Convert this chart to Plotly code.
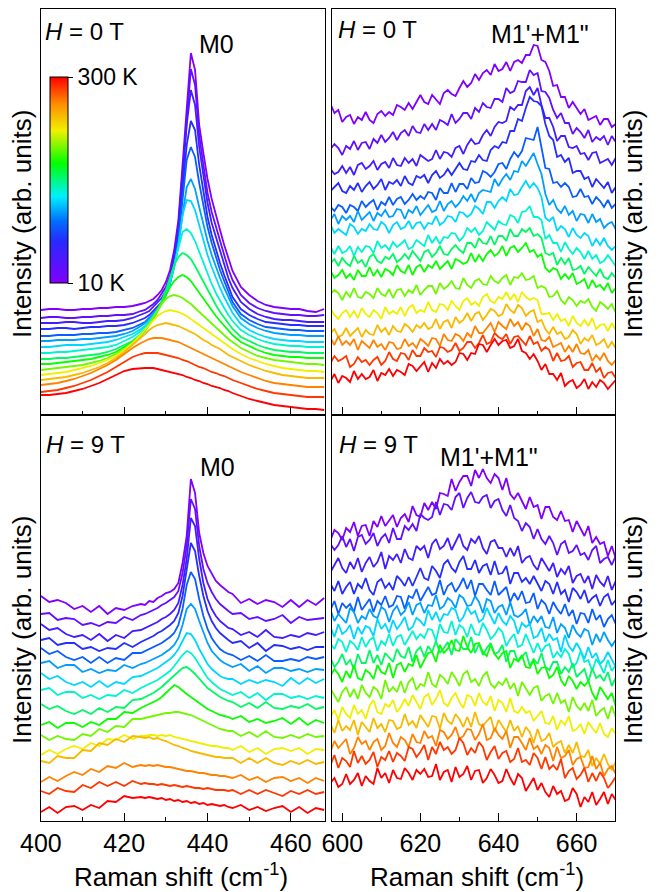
import plotly.graph_objects as go
from plotly.colors import sample_colorscale

# ---------------- data ----------------
temperatures_K = [10, 30, 50, 70, 90, 110, 125, 140, 160, 180, 200, 225, 245, 265, 285, 300]

shift_m0 = [400, 402, 404, 406, 408, 410, 412, 414, 416, 418, 420, 422, 424,
            425, 426, 427, 428, 429, 430, 431, 432, 433, 434, 435, 436, 437, 438, 439, 440,
            441, 442, 443, 444, 445,
            446, 448, 450, 452, 454, 456, 458, 460, 462, 464, 466, 468]
shift_m1 = list(range(597, 671))

# H = 0 T, M0 region (arb. units, offset spectra)
int_m0_0T = [
    [105,106,106,105,105,106,106,107,107,108,108,109,111,112,114,116,120,125,133,145,165,195,250,310,362,345,290,262,236,216,199,185,170,156,144,128,120,114,110,108,107,106,106,104,103,106],
    [97,98,98,97,97,98,98,99,99,100,100,101,104,105,108,111,115,121,128,140,160,190,245,300,346,330,280,250,222,203,188,173,160,146,135,120,112,107,104,102,101,100,100,99,99,100],
    [92,92,92,93,93,92,92,93,94,94,95,97,100,102,104,108,112,117,124,135,155,185,238,290,325,310,268,240,212,192,178,163,150,137,127,113,106,101,98,96,95,95,94,93,93,93],
    [86,86,87,87,86,87,88,88,89,89,90,92,95,97,100,104,108,113,120,132,152,180,225,270,294,285,250,222,198,180,165,152,140,128,118,106,100,96,93,92,91,90,90,89,89,89],
    [79,79,80,80,80,81,81,82,82,83,85,87,91,93,97,101,106,112,120,132,150,175,212,255,268,258,232,208,188,172,158,145,134,123,113,101,95,91,88,87,86,85,85,84,84,84],
    [74,74,75,75,75,76,76,77,78,79,81,84,89,92,96,101,106,112,120,132,148,170,200,228,236,226,208,190,174,160,148,137,127,118,109,97,91,87,84,82,81,80,80,79,79,79],
    [68,68,69,70,70,70,71,72,73,75,78,81,86,89,94,99,105,112,120,132,148,170,200,215,214,205,190,175,160,148,137,127,118,110,102,91,85,81,78,76,75,74,74,73,73,73],
    [62,62,63,63,64,65,66,67,68,70,74,78,84,88,93,98,105,112,122,134,150,168,183,186,182,174,163,152,141,131,122,114,107,100,94,85,80,76,73,71,70,69,69,68,68,68],
    [56,56,57,57,58,59,60,61,63,66,70,74,81,85,91,97,105,114,125,138,150,158,162,160,156,149,141,133,125,117,110,103,97,91,86,78,74,70,67,65,64,63,63,62,62,62],
    [51,51,52,53,54,55,56,58,60,63,68,73,80,84,90,96,104,112,120,128,134,138,140,138,134,128,122,116,110,104,99,94,89,84,80,73,69,65,62,60,59,58,58,57,57,57],
    [45,46,47,48,49,50,52,54,57,61,66,72,80,85,91,98,105,111,116,119,120,119,117,114,111,107,103,99,95,91,87,84,80,76,73,67,63,59,57,55,54,53,52,51,51,50],
    [40,41,42,43,45,47,49,52,55,59,65,72,80,85,90,95,99,102,104,105,104,103,101,99,96,93,90,87,84,81,78,75,72,69,66,61,57,54,51,49,47,46,45,44,44,43],
    [35,36,37,38,40,42,45,48,52,57,63,70,77,81,85,88,90,91,92,91,90,89,87,85,83,81,78,75,73,70,68,66,63,60,58,54,50,47,44,42,40,39,38,37,37,37],
    [30,31,32,34,36,39,42,46,50,55,61,67,72,74,76,77,77,77,76,75,74,73,71,69,67,65,63,61,59,57,55,53,51,49,47,43,40,37,34,32,31,30,29,28,28,28],
    [23,24,25,27,29,32,35,39,43,48,53,58,61,62,62,62,62,61,60,59,58,57,55,54,52,50,48,47,45,43,42,40,39,37,35,32,29,26,24,22,21,20,19,18,18,18],
    [20,20,21,22,24,26,29,32,36,40,44,46,47,47,47,47,46,45,44,43,42,41,40,38,37,35,34,32,31,29,28,27,25,24,22,19,16,14,12,10,9,8,7,6,6,5],
]

# H = 9 T, M0 region
int_m0_9T = [
    [225,219,221,218,212,215,209,215,207,213,211,215,217,216,220,219,223,225,228,229,232,238,258,285,342,328,288,268,255,247,240,236,232,229,227,218,222,217,221,219,214,221,214,221,216,223],
    [207,208,201,203,202,196,198,195,199,198,204,201,206,207,209,211,213,216,218,221,224,230,248,275,322,312,275,252,238,229,222,217,213,210,207,208,202,204,200,202,206,198,204,201,202,203],
    [197,191,193,187,184,186,181,187,180,186,183,190,191,193,195,197,199,202,204,207,211,218,236,262,303,295,262,238,222,212,205,200,196,193,192,186,189,184,191,184,183,186,184,188,186,189],
    [181,183,176,178,178,172,174,170,173,172,178,174,179,181,183,185,188,190,193,196,200,208,225,252,278,270,245,225,210,200,193,188,184,181,178,180,173,178,170,176,175,172,174,171,174,174],
    [173,167,170,164,161,164,158,164,158,163,161,168,168,170,172,174,176,178,181,184,188,196,212,236,249,242,222,205,192,183,177,172,169,167,166,161,165,160,166,160,160,162,160,164,162,164],
    [158,160,153,156,156,149,152,148,151,150,156,153,157,158,160,162,164,166,169,172,176,183,196,212,217,212,200,188,178,170,165,161,158,156,154,157,150,155,148,153,153,150,152,149,152,151],
    [148,142,145,139,136,139,134,140,134,139,137,144,145,147,149,151,153,156,159,162,166,172,180,188,187,181,172,164,157,152,148,145,143,142,142,137,141,138,141,139,135,143,137,143,138,142],
    [131,133,126,129,129,123,126,122,126,125,131,128,133,135,137,139,141,144,147,150,155,161,166,170,168,163,156,149,143,139,135,132,130,128,126,129,123,128,121,127,127,123,125,122,125,123],
    [117,112,115,110,107,111,107,113,109,114,113,121,122,124,126,128,131,134,138,142,146,150,153,154,151,147,142,137,133,130,127,124,122,120,119,114,118,113,119,113,112,115,113,117,112,114],
    [96,99,93,98,98,94,99,96,102,102,109,108,113,115,117,119,121,124,128,133,136,134,130,127,124,121,118,115,112,110,108,106,105,104,102,105,99,102,98,100,103,97,103,96,101,98],
    [86,81,85,82,81,87,85,92,89,95,94,102,102,103,104,105,106,107,108,108,109,109,108,107,106,104,102,100,98,96,94,92,91,90,90,85,89,84,90,84,83,86,83,87,84,85],
    [66,71,67,72,75,72,78,75,82,81,86,82,85,85,86,86,85,86,85,86,84,83,82,81,80,79,78,77,76,75,75,74,73,73,71,75,69,73,67,72,73,70,73,67,72,71],
    [60,58,65,63,63,71,70,78,76,82,79,85,84,83,84,82,83,81,80,78,76,75,73,72,70,69,68,67,66,65,64,64,63,63,63,58,63,58,63,58,56,60,57,61,57,59],
    [39,44,40,45,49,46,52,49,55,53,58,54,56,55,56,55,56,55,54,54,53,52,51,50,50,49,48,48,47,46,46,45,45,44,43,46,41,44,39,43,44,40,43,38,43,40],
    [30,27,33,30,29,36,33,39,35,39,35,40,37,38,37,37,36,37,36,35,36,35,34,35,34,33,33,32,33,32,31,31,31,30,31,27,31,27,31,28,25,30,27,31,27,29],
    [9,14,8,14,15,11,16,13,20,19,25,23,24,23,24,23,22,23,21,22,20,21,19,20,18,19,17,18,16,17,16,15,16,14,13,16,11,14,10,13,15,9,14,8,13,11],
]

# H = 0 T, M1'+M1" region
int_m1_0T = [
    [311,302,305,293,298,300,291,298,295,303,295,292,301,304,299,303,300,310,308,305,312,306,313,320,313,311,320,316,311,322,325,321,319,327,334,328,332,341,335,342,345,340,351,344,346,353,344,353,355,352,360,360,370,369,355,353,344,329,330,318,318,307,313,307,301,306,295,297,299,290,296,296,288,291],
    [266,271,267,260,269,266,274,265,272,273,266,276,272,280,273,277,283,275,282,285,279,289,283,282,291,285,291,285,295,293,290,301,292,296,302,302,296,307,303,312,308,307,316,316,313,327,322,324,334,333,333,345,340,342,324,323,317,305,297,302,292,292,281,287,283,277,285,273,278,275,279,270,279,273],
    [246,241,243,249,242,248,240,250,252,246,249,254,245,251,253,247,257,250,249,257,252,256,249,260,257,254,256,265,256,263,262,258,267,269,261,270,276,271,272,280,285,279,288,293,292,294,308,305,310,310,324,328,320,327,310,297,297,288,274,279,279,268,267,269,261,262,255,262,263,252,254,256,250,257],
    [224,228,232,224,222,229,225,232,223,229,233,226,230,236,225,233,231,235,229,239,232,230,239,237,240,232,240,244,237,240,246,240,246,252,246,245,254,253,260,255,254,265,269,267,273,272,284,284,296,294,307,318,314,313,309,291,279,275,258,260,253,257,242,244,244,236,238,228,236,231,227,233,222,228],
    [208,204,210,208,202,210,208,204,214,208,212,215,205,213,210,218,210,216,218,211,215,221,215,219,216,223,222,215,227,222,222,232,223,231,231,226,237,232,233,244,242,238,243,251,252,246,256,263,258,264,277,276,275,288,267,247,246,232,233,228,232,228,218,219,226,218,219,211,218,214,208,215,207,211],
    [195,201,191,199,195,199,193,204,195,199,203,194,202,199,205,198,199,206,205,196,205,202,209,200,205,210,203,205,214,204,211,214,208,212,219,214,221,213,222,225,224,223,236,229,236,241,235,244,243,254,249,255,262,251,241,221,210,215,206,202,209,200,204,194,201,200,192,201,193,196,187,191,193,186],
    [190,182,186,183,180,191,188,181,186,184,191,186,185,193,190,182,190,193,186,188,194,186,192,193,186,192,191,199,190,193,199,198,193,203,202,198,201,209,206,201,213,213,207,214,218,214,226,220,221,228,234,227,232,227,218,197,194,198,184,189,186,178,187,180,177,182,179,169,176,170,177,169,165,169],
    [168,161,169,162,164,169,159,168,163,169,168,162,174,167,170,165,173,168,171,175,166,168,175,172,169,180,172,178,171,178,177,182,181,174,178,187,183,187,180,184,193,189,185,194,191,190,200,198,192,203,204,209,198,198,195,176,180,172,172,163,173,166,161,167,163,156,164,156,160,152,154,160,155,149],
    [152,156,149,157,152,149,159,152,155,148,158,161,154,152,158,156,161,153,156,161,156,164,159,154,163,165,158,162,169,161,160,166,170,165,162,172,172,167,177,172,171,179,170,179,179,174,186,179,179,186,183,187,179,181,177,162,160,162,150,157,151,157,145,146,149,141,148,143,139,146,138,136,142,137],
    [144,137,140,145,137,141,135,145,139,139,148,139,145,138,146,144,140,150,144,142,150,140,148,150,143,150,147,154,146,150,154,146,156,154,151,153,162,153,160,154,161,165,159,162,169,159,167,169,163,167,172,163,165,158,161,147,143,147,145,136,141,136,142,131,133,136,126,135,128,130,125,132,122,127],
    [121,125,122,115,123,118,127,118,117,123,121,117,127,121,119,126,117,125,126,119,125,122,130,120,125,129,129,121,132,126,129,134,127,126,137,130,127,134,136,131,130,139,134,132,137,140,130,138,137,142,135,136,139,127,129,127,118,119,124,115,111,118,115,109,114,112,116,108,104,113,110,106,111,102],
    [106,100,96,102,105,98,104,97,107,101,98,105,102,96,108,101,104,101,108,99,107,110,102,105,103,113,105,103,111,110,105,114,109,105,114,117,110,113,109,118,121,114,112,118,116,123,115,121,113,123,118,115,117,115,101,101,102,95,101,94,96,89,99,92,89,95,89,97,86,90,91,84,92,85],
    [82,86,78,80,87,79,83,87,78,85,81,80,90,83,87,80,89,84,83,91,88,83,90,87,92,86,88,96,86,93,95,87,98,92,95,102,94,101,103,95,100,106,104,99,101,111,105,102,110,107,99,103,105,93,95,86,81,88,81,83,76,78,85,81,71,77,74,80,70,72,76,67,73,67],
    [77,70,79,70,74,70,76,65,74,70,67,75,68,71,65,73,72,66,67,76,69,72,67,76,73,69,77,76,69,81,75,74,81,79,74,82,78,89,82,82,87,92,83,93,89,86,96,89,93,85,92,89,79,86,75,74,78,68,70,72,63,69,63,71,62,61,65,54,60,55,62,54,50,55],
    [52,59,54,56,59,48,51,58,53,55,50,55,58,50,54,63,56,54,62,61,55,65,59,59,67,63,64,58,68,67,63,65,72,64,67,73,73,67,72,80,71,73,82,78,76,81,71,78,79,74,70,79,71,73,64,68,65,54,62,54,55,59,48,52,53,45,45,52,43,47,37,42,43,37],
    [34,41,32,39,37,33,44,36,41,36,38,45,34,42,40,46,39,45,43,40,51,49,44,48,53,43,52,47,56,51,54,50,53,62,61,55,62,61,71,70,63,70,76,70,74,75,67,69,76,64,62,56,61,54,45,51,41,41,35,42,29,33,35,27,30,36,26,33,28,35,32,26,30,35],
]

# H = 9 T, M1'+M1" region
int_m1_9T = [
    [281,291,288,281,293,289,299,285,295,296,285,300,294,305,295,300,306,294,303,307,299,315,306,304,318,311,319,312,328,327,325,342,330,339,345,345,335,351,343,352,343,338,347,343,331,343,327,322,328,320,312,324,314,316,302,314,314,304,301,310,300,301,289,300,292,285,295,278,284,277,279,265,275,263],
    [277,271,276,285,274,282,270,284,286,277,281,288,275,283,287,278,293,282,282,295,291,297,290,307,303,301,304,319,306,317,316,311,324,328,313,323,329,319,318,324,326,313,320,322,311,305,316,303,300,290,298,294,282,292,282,277,285,278,266,277,280,268,270,276,266,268,261,271,275,258,262,264,256,265],
    [249,256,263,253,248,259,252,263,249,258,264,254,259,269,252,265,261,267,258,272,263,261,275,271,275,263,277,282,272,275,283,271,279,287,275,271,282,278,285,273,267,279,281,273,273,264,273,265,275,258,263,265,256,251,263,256,250,258,244,252,247,255,238,245,247,238,245,232,246,239,235,245,231,240],
    [237,230,240,227,234,239,227,237,233,243,231,226,239,242,233,238,231,245,241,235,244,235,244,253,243,241,255,250,243,257,261,253,249,259,265,252,252,261,248,255,257,246,260,247,248,255,237,248,248,239,243,237,245,237,230,240,237,227,239,227,231,219,233,229,222,231,218,223,226,215,224,227,216,221],
    [211,220,207,218,213,217,209,224,211,216,222,209,220,216,225,214,216,225,224,212,225,223,232,220,227,234,226,228,241,226,235,238,229,235,243,232,241,225,237,237,231,226,240,226,230,234,219,228,221,230,218,219,228,212,221,217,207,219,212,207,217,205,211,197,208,207,198,212,201,206,194,202,206,197],
    [211,200,207,203,198,213,209,198,205,202,212,205,203,214,211,199,210,215,206,210,219,206,216,218,208,216,215,226,212,215,223,220,213,226,223,215,216,225,219,208,222,220,208,214,216,206,219,206,204,207,212,196,205,199,205,194,193,204,188,197,193,183,196,188,184,192,190,176,187,179,189,181,175,181],
    [194,184,197,187,190,196,182,194,187,195,193,185,202,192,197,188,201,192,197,204,191,194,203,200,195,211,201,209,199,207,206,213,211,199,204,214,207,210,199,202,213,205,197,208,200,196,205,200,187,198,194,197,183,185,193,179,187,181,183,169,186,175,170,178,171,162,174,163,168,157,161,169,162,154],
    [177,172,182,179,169,180,177,171,184,174,181,184,170,180,176,187,175,184,186,176,183,190,182,187,183,192,191,180,197,189,188,200,186,196,193,184,197,187,186,198,191,182,186,193,189,175,182,187,174,176,187,177,168,178,169,175,177,163,169,164,172,167,154,158,170,159,161,150,162,156,148,161,150,156],
    [163,154,159,167,156,161,152,167,158,158,171,158,166,156,168,164,159,172,165,163,174,159,170,174,164,175,169,180,168,173,179,166,182,177,172,172,184,168,177,166,173,178,167,169,176,159,170,170,159,164,169,155,162,157,168,154,151,159,159,147,154,149,158,144,148,152,139,153,143,146,140,149,135,143],
    [145,152,147,139,150,143,156,143,141,151,148,142,156,149,147,158,143,156,158,149,157,155,166,153,161,168,169,159,176,168,172,181,171,170,185,174,168,177,178,169,165,176,167,162,168,170,153,162,160,166,154,153,161,147,153,154,143,146,154,141,135,145,140,132,139,135,140,128,121,134,128,122,128,115],
    [132,125,119,129,134,124,132,122,136,128,124,134,131,122,141,129,134,129,140,128,139,143,131,137,135,149,137,134,146,143,137,149,143,135,147,150,139,142,135,145,149,137,133,139,136,143,132,138,125,139,132,126,133,135,120,125,127,117,128,118,121,109,124,115,111,118,110,121,105,110,113,102,115,104],
    [104,111,101,114,107,103,116,107,111,102,115,121,109,107,117,114,121,109,114,122,115,126,119,112,124,127,116,122,131,118,115,123,128,119,113,126,124,115,128,119,116,125,110,121,118,109,123,110,108,114,108,110,100,105,110,98,97,105,91,101,96,105,90,92,97,87,99,93,88,98,87,84,93,87],
    [97,88,101,90,95,91,101,86,99,94,89,103,93,97,89,101,100,92,94,107,96,100,93,106,100,94,105,104,92,108,100,97,107,102,94,104,94,109,97,95,100,104,89,101,95,89,101,90,95,84,94,89,78,92,80,82,88,74,78,80,68,76,68,79,65,64,71,55,63,57,67,57,51,59],
    [69,80,73,77,82,67,73,84,77,80,71,79,82,71,75,88,78,74,84,81,74,87,79,78,90,83,85,75,91,89,82,86,94,82,85,92,91,81,87,97,81,83,93,86,82,90,73,84,84,78,71,83,72,75,67,76,73,60,74,63,65,71,56,62,64,53,54,65,52,58,45,52,55,47],
    [56,66,53,63,60,54,70,58,65,57,61,69,54,64,61,70,59,68,65,60,74,72,64,69,76,61,74,67,79,71,74,67,71,83,78,66,73,68,79,74,61,69,75,62,68,70,59,62,73,59,61,56,68,63,52,64,52,56,51,62,43,50,53,42,46,53,39,48,40,49,43,33,38,44],
    [38,43,34,37,47,37,41,48,35,45,40,37,53,43,48,38,51,43,42,53,48,41,51,47,52,44,45,57,41,49,51,39,54,44,47,55,41,50,51,38,43,52,46,38,40,52,43,36,47,43,30,36,43,31,38,29,24,35,27,30,20,22,33,27,14,24,19,29,16,22,29,17,27,21],
]

panel_labels = ["<i>H</i> = 0 T", "<i>H</i> = 0 T", "<i>H</i> = 9 T", "<i>H</i> = 9 T"]
mode_labels = ["M0", "M1'+M1\"", "M0", "M1'+M1\""]
x_title = "Raman shift (cm<sup>-1</sup>)"
y_title = "Intensity (arb. units)"

# ---------------- style ----------------
W, H = 659, 892
FONT = "Liberation Sans, Arial, sans-serif"
rainbow = [[0.0, "rgb(128,0,255)"], [0.2, "rgb(40,40,255)"], [0.3, "rgb(0,110,255)"],
           [0.42, "rgb(0,240,255)"], [0.58, "rgb(0,255,0)"], [0.74, "rgb(240,240,0)"],
           [0.87, "rgb(255,140,0)"], [1.0, "rgb(255,0,0)"]]
tmin, tmax = min(temperatures_K), max(temperatures_K)
line_colors = sample_colorscale(rainbow, [(t - tmin) / (tmax - tmin) for t in temperatures_K])

def px(x):
    return x / W

def py(y):
    return 1 - y / H

fig = go.Figure()
panels = [(int_m0_0T, shift_m0, "x", "y"), (int_m1_0T, shift_m1, "x2", "y2"),
          (int_m0_9T, shift_m0, "x3", "y3"), (int_m1_9T, shift_m1, "x4", "y4")]
for data, xs, xa, ya in panels:
    for i, ys in enumerate(data):
        fig.add_trace(go.Scatter(x=xs, y=ys, mode="lines", xaxis=xa, yaxis=ya,
                                 line=dict(color=line_colors[i], width=1.8),
                                 hoverinfo="skip", showlegend=False))

# colorbar carrier (points lie outside the visible range)
fig.add_trace(go.Scatter(
    x=[1000, 1000], y=[0, 0], mode="markers", xaxis="x", yaxis="y",
    marker=dict(color=[tmin, tmax], colorscale=rainbow, cmin=tmin, cmax=tmax, size=1,
                showscale=True,
                colorbar=dict(x=px(50), xanchor="left", y=py(180), yanchor="middle",
                              len=206, lenmode="pixels", thickness=18, thicknessmode="pixels",
                              outlinecolor="black", outlinewidth=1, xpad=0, ypad=0,
                              tickvals=[10, 300], ticktext=["10 K", "300 K"],
                              ticks="outside", ticklen=5, tickcolor="black",
                              tickfont=dict(family=FONT, size=23, color="black"))),
    hoverinfo="skip", showlegend=False))

xl = [px(40.5), px(325)]
xr = [px(331.7), px(615.3)]
yt = [py(415), py(9)]
yb = [py(821), py(415)]

def xax(domain, rng, t0, labels, anchor):
    return dict(domain=domain, range=rng, anchor=anchor, showline=True, mirror=True,
                linecolor="black", linewidth=1, ticks="inside", ticklen=8, tickwidth=1,
                tickcolor="black", tick0=t0, dtick=20, showticklabels=labels,
                tickfont=dict(family=FONT, size=25, color="black"),
                showgrid=False, zeroline=False, automargin=False,
                minor=dict(ticks="inside", ticklen=4, dtick=10, tick0=t0, tickcolor="black"))

def yax(domain, anchor):
    return dict(domain=domain, range=[0, 406], anchor=anchor, showline=True, mirror=True,
                linecolor="black", linewidth=1, ticks="", showticklabels=False,
                showgrid=False, zeroline=False, automargin=False)

fig.update_layout(
    width=W, height=H, margin=dict(l=0, r=0, t=0, b=0, autoexpand=False),
    paper_bgcolor="white", plot_bgcolor="white", showlegend=False, hovermode=False,
    xaxis=xax(xl, [399.9, 468.2], 400, False, "y"),
    xaxis2=xax(xr, [597.3, 669.9], 600, False, "y2"),
    xaxis3=xax(xl, [399.9, 468.2], 400, True, "y3"),
    xaxis4=xax(xr, [597.3, 669.9], 600, True, "y4"),
    yaxis=yax(yt, "x"), yaxis2=yax(yt, "x2"), yaxis3=yax(yb, "x3"), yaxis4=yax(yb, "x4"),
)

ann = []
def text(x, y, s, size, xanchor="left", angle=0):
    ann.append(dict(x=px(x), y=py(y), xref="paper", yref="paper", text=s, showarrow=False,
                    xanchor=xanchor, yanchor="middle", textangle=angle,
                    font=dict(family=FONT, size=size, color="black")))

text(43, 31, panel_labels[0], 24)
text(336, 30, panel_labels[1], 24)
text(44, 444, panel_labels[2], 24)
text(337, 444, panel_labels[3], 24)
text(197, 44, mode_labels[0], 25)
text(489, 34, mode_labels[1], 25)
text(198, 467, mode_labels[2], 25)
text(438, 457, mode_labels[3], 25)
text(181, 875, x_title, 26, "center")
text(477, 875, x_title, 26, "center")
text(22, 224, y_title, 26, "center", -90)
text(22, 630, y_title, 26, "center", -90)
text(633, 224, y_title, 26, "center", -90)
text(633, 630, y_title, 26, "center", -90)
fig.update_layout(annotations=ann)

# remove the default 8px page margin so the figure sits at the window origin
fig.write_html("out.html", config={"displayModeBar": False},
               post_script="document.body.style.margin='0px';")
